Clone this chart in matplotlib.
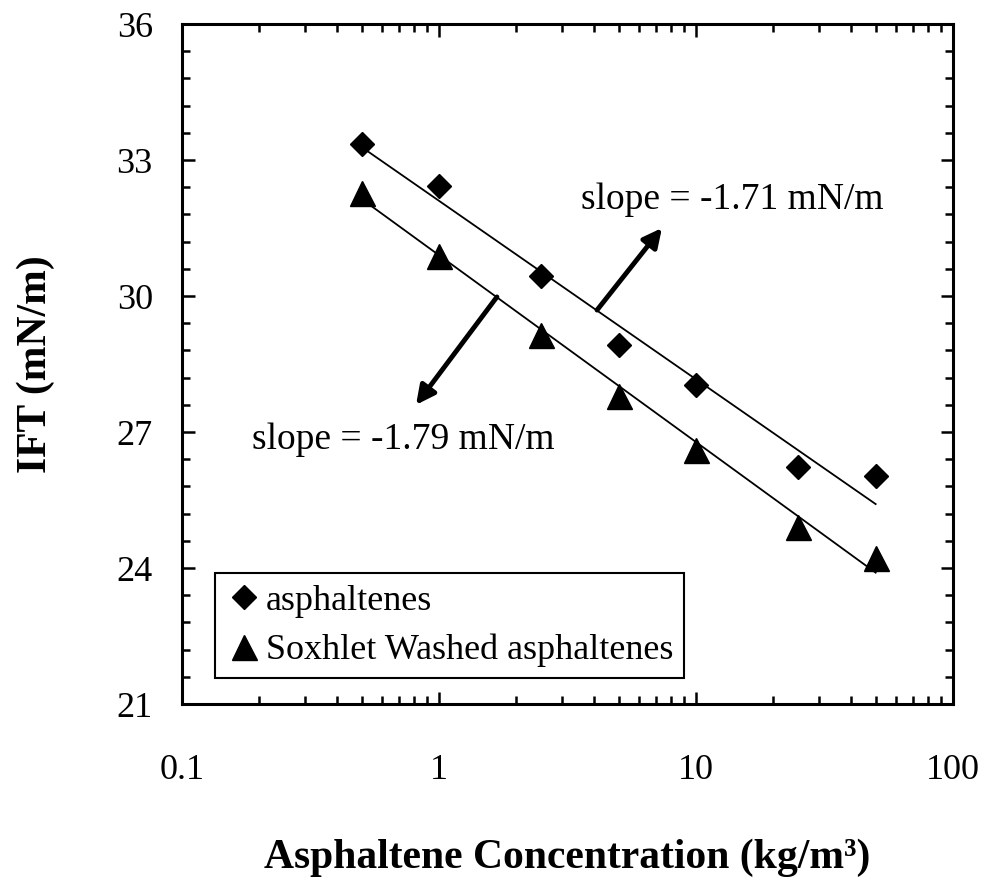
import numpy as np
import matplotlib
matplotlib.use("Agg")
import matplotlib.pyplot as plt
from matplotlib.ticker import LogLocator, NullFormatter, MultipleLocator

# concentrations (kg/m3)
conc = [0.5, 1, 2.5, 5, 10, 25, 50]
# IFT (mN/m)
ift_asph = [33.35, 32.43, 30.44, 28.92, 28.04, 26.23, 26.03]
ift_soxhlet = [32.27, 30.88, 29.15, 27.8, 26.6, 24.9, 24.22]

# fitted lines: IFT = a + slope * ln(c)
slope_asph, icpt_asph = -1.71, 32.10
slope_sox, icpt_sox = -1.79, 30.90

plt.rcParams["font.family"] = ["Liberation Serif", "DejaVu Serif"]
plt.rcParams["font.size"] = 26


def plot_ift():
    fig = plt.figure(figsize=(9.88, 8.83), dpi=100)
    ax = fig.add_axes([0.1842, 0.2027, 0.7804, 0.7701])

    c = np.array(conc)
    cfit = np.geomspace(c.min(), c.max(), 50)
    ax.plot(cfit, icpt_asph + slope_asph * np.log(cfit), color="black", lw=1.3)
    ax.plot(cfit, icpt_sox + slope_sox * np.log(cfit), color="black", lw=1.3)

    ax.plot(conc, ift_asph, "D", color="black", ms=12.5, label="asphaltenes")
    ax.plot(conc, ift_soxhlet, "^", color="black", ms=18, label="Soxhlet Washed asphaltenes")

    ax.set_xscale("log")
    ax.set_xlim(0.1, 100)
    ax.set_ylim(21, 36)
    ax.set_xticks([0.1, 1, 10, 100])
    ax.set_xticklabels(["0.1", "1", "10", "100"])
    ax.xaxis.set_minor_locator(LogLocator(base=10, subs=np.arange(2, 10)))
    ax.xaxis.set_minor_formatter(NullFormatter())
    ax.yaxis.set_major_locator(MultipleLocator(3))
    ax.yaxis.set_minor_locator(MultipleLocator(0.6))

    ax.tick_params(which="both", direction="in", top=True, right=True, width=1.8)
    ax.tick_params(which="major", length=9)
    ax.tick_params(which="minor", length=6)
    ax.tick_params(axis="x", which="major", pad=36)
    ax.tick_params(axis="y", which="major", pad=21)
    for s in ax.spines.values():
        s.set_linewidth(2.2)

    ax.set_ylabel("IFT (mN/m)", fontweight="bold", fontsize=30, va="center")
    ax.yaxis.set_label_coords(-0.19, 0.5)
    ax.set_xlabel("Asphaltene Concentration (kg/m³)", fontweight="bold", fontsize=30,
                  va="center")
    ax.xaxis.set_label_coords(0.5, -0.2265)

    arrow = dict(arrowstyle="-|>", lw=3.5, color="black", mutation_scale=28,
                 shrinkA=0, shrinkB=0)
    ax.annotate("", xy=(7.37, 31.5), xytext=(4.12, 29.69), arrowprops=arrow)
    ax.annotate("", xy=(0.814, 27.6), xytext=(1.68, 29.98), arrowprops=arrow)
    ax.text(13.9, 32.12, "slope = -1.71 mN/m", ha="center", va="center", fontsize=27)
    ax.text(0.724, 26.82, "slope = -1.79 mN/m", ha="center", va="center", fontsize=27)

    leg = ax.legend(loc="lower left", bbox_to_anchor=(0.043, 0.038), fancybox=False,
                    edgecolor="black", framealpha=1, handletextpad=0.1,
                    handlelength=1.0, borderpad=0.3, labelspacing=0.45,
                    borderaxespad=0, fontsize=26)
    leg.get_frame().set_linewidth(1.5)

    fig.savefig("out.png", dpi=100)


if __name__ == "__main__":
    plot_ift()
